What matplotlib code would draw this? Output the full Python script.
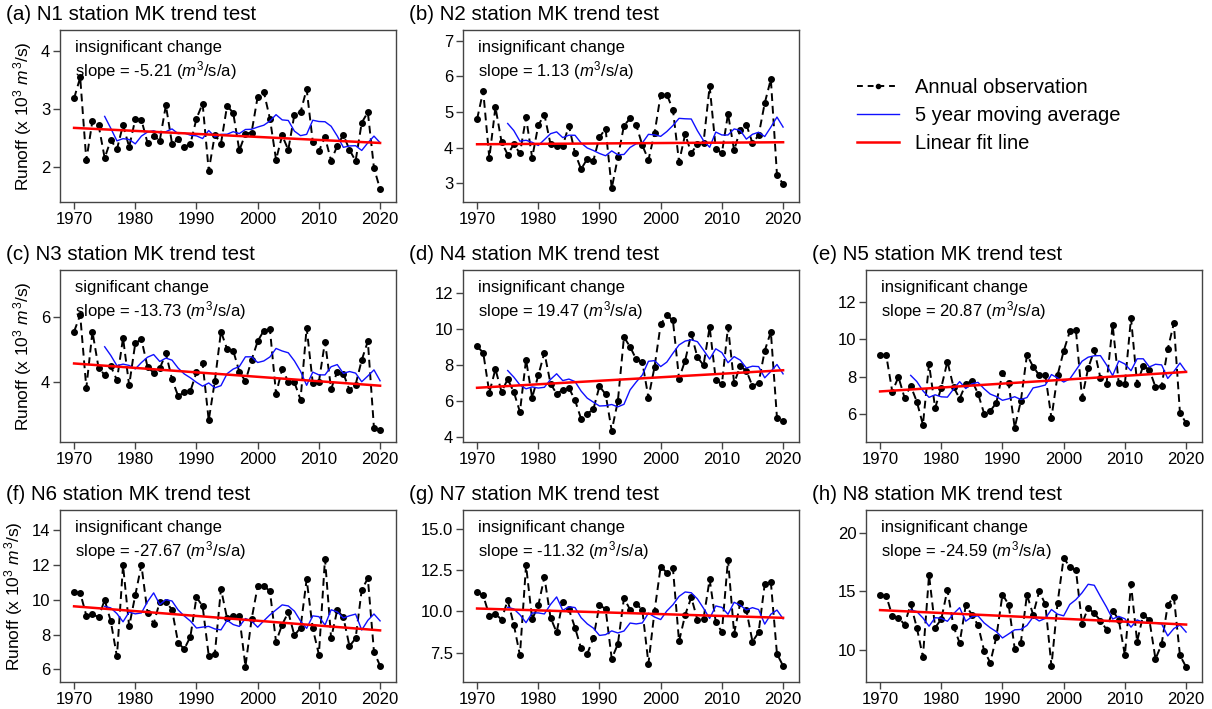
import numpy as np
import pandas as pd
import matplotlib
matplotlib.use('Agg')
import matplotlib.pyplot as plt
from matplotlib.lines import Line2D

plt.rcParams['font.family'] = ['Liberation Sans', 'DejaVu Sans']
plt.rcParams['mathtext.fontset'] = 'custom'
plt.rcParams['mathtext.rm'] = 'Liberation Sans'
plt.rcParams['mathtext.it'] = 'Liberation Sans:italic'

years = np.arange(1970, 2021)

# annual runoff (x 10^3 m3/s)
n1 = [3.18, 3.54, 2.11, 2.79, 2.72, 2.15, 2.46, 2.30, 2.72, 2.34,
      2.82, 2.81, 2.41, 2.53, 2.45, 3.06, 2.40, 2.47, 2.34, 2.39,
      2.83, 3.09, 1.93, 2.55, 2.40, 3.05, 2.93, 2.28, 2.57, 2.59,
      3.21, 3.29, 2.83, 2.12, 2.54, 2.29, 2.90, 2.94, 3.34, 2.43,
      2.27, 2.51, 2.10, 2.36, 2.55, 2.29, 2.10, 2.76, 2.94, 1.98, 1.61]
n2 = [4.80, 5.59, 3.71, 5.14, 4.16, 3.81, 4.10, 3.84, 4.85, 3.72,
      4.63, 4.93, 4.10, 4.04, 4.06, 4.62, 3.85, 3.40, 3.69, 3.64,
      4.30, 4.53, 2.86, 3.73, 4.62, 4.82, 4.64, 4.07, 3.66, 4.41,
      5.49, 5.49, 5.07, 3.60, 4.38, 3.85, 4.10, 4.14, 5.73, 3.97,
      3.85, 4.95, 3.93, 4.51, 4.65, 4.13, 4.35, 5.25, 5.92, 3.25, 2.98]
n3 = [5.56, 6.07, 3.82, 5.56, 4.44, 4.22, 4.49, 4.06, 5.36, 3.90,
      5.20, 5.32, 4.47, 4.29, 4.42, 4.89, 4.09, 3.57, 3.69, 3.72,
      4.30, 4.58, 2.82, 4.03, 5.56, 5.02, 4.97, 4.32, 4.03, 4.68,
      5.26, 5.59, 5.63, 3.64, 4.40, 4.01, 3.99, 3.46, 5.68, 3.97,
      4.01, 5.25, 3.79, 4.32, 4.26, 3.76, 3.92, 4.68, 5.26, 2.58, 2.53]
n4 = [9.04, 8.70, 6.48, 7.78, 6.52, 7.22, 6.52, 5.41, 8.31, 6.20,
      7.43, 8.70, 6.98, 6.41, 6.63, 6.74, 6.06, 5.02, 5.30, 5.56,
      6.83, 6.39, 4.37, 6.00, 9.56, 9.02, 8.33, 8.17, 6.19, 7.91,
      10.26, 10.78, 10.48, 7.26, 8.26, 9.74, 8.44, 8.00, 10.11, 7.20,
      6.94, 10.13, 7.02, 7.93, 7.70, 6.83, 7.02, 8.80, 9.85, 5.09, 4.89]
n5 = [9.16, 9.16, 7.20, 8.00, 6.88, 7.52, 6.68, 5.45, 8.68, 6.34,
      7.43, 8.82, 7.46, 6.84, 7.61, 7.80, 7.11, 6.04, 6.18, 6.61,
      8.21, 7.66, 5.29, 6.71, 9.18, 8.55, 8.09, 8.09, 5.80, 8.09,
      9.38, 10.43, 10.48, 6.88, 8.46, 9.43, 7.95, 7.63, 10.77, 7.66,
      7.63, 11.14, 7.63, 8.59, 8.38, 7.46, 7.52, 9.48, 10.86, 6.07, 5.54]
n6 = [10.42, 10.40, 9.09, 9.18, 8.99, 9.99, 8.76, 6.74, 11.98, 8.47,
      10.26, 12.00, 9.26, 8.62, 9.88, 9.88, 9.43, 7.53, 7.16, 7.87,
      10.15, 9.63, 6.79, 6.89, 10.63, 8.93, 9.09, 9.05, 6.16, 8.87,
      10.78, 10.80, 10.49, 7.58, 8.57, 9.28, 7.95, 8.39, 11.17, 8.35,
      6.85, 12.36, 7.78, 9.41, 8.99, 7.33, 7.78, 10.57, 11.23, 7.01, 6.20]
n7 = [11.17, 10.97, 9.75, 9.85, 9.50, 10.68, 9.20, 7.34, 12.80, 9.52,
      10.36, 12.09, 9.62, 8.73, 10.60, 10.13, 9.01, 7.75, 7.42, 8.38,
      10.38, 10.15, 7.12, 8.01, 10.80, 10.11, 10.46, 10.09, 6.83, 10.03,
      12.72, 12.35, 12.62, 8.18, 9.79, 10.85, 9.50, 9.56, 11.95, 9.36,
      8.75, 13.15, 8.65, 10.52, 10.07, 8.16, 8.73, 11.66, 11.78, 7.42, 6.69]
n8 = [14.66, 14.63, 12.93, 12.76, 12.19, 13.92, 11.93, 9.43, 16.39, 11.93,
      12.64, 15.14, 12.02, 10.63, 13.81, 13.04, 12.13, 9.97, 8.95, 11.14,
      14.74, 13.89, 10.14, 10.65, 14.72, 13.04, 15.00, 13.92, 8.66, 14.03,
      17.87, 17.07, 16.82, 12.27, 13.61, 13.13, 12.53, 11.76, 13.38, 12.59,
      9.57, 15.60, 10.74, 13.01, 12.59, 9.26, 10.51, 13.84, 14.55, 9.57, 8.58]

stations = ['N1', 'N2', 'N3', 'N4', 'N5', 'N6', 'N7', 'N8']
letters = ['a', 'b', 'c', 'd', 'e', 'f', 'g', 'h']
series = [n1, n2, n3, n4, n5, n6, n7, n8]
slopes = ['-5.21', '1.13', '-13.73', '19.47', '20.87', '-27.67', '-11.32', '-24.59']
changes = ['insignificant', 'insignificant', 'significant', 'insignificant',
           'insignificant', 'insignificant', 'insignificant', 'insignificant']

# panel layout (pixels of 1212x709 figure): (left, top)
W, H = 1212, 709
slots = [(60, 30), (463, 30), (60, 270), (463, 270), (866, 270),
         (60, 510), (463, 510), (866, 510)]
ylims = [(1.39, 4.36), (2.48, 7.30), (2.15, 7.46), (3.74, 13.28),
         (4.52, 13.71), (5.27, 15.16), (5.71, 16.16), (7.30, 21.93)]
yticks = [[2, 3, 4], [3, 4, 5, 6, 7], [4, 6], [4, 6, 8, 10, 12],
          [6, 8, 10, 12], [6, 8, 10, 12, 14], [7.5, 10.0, 12.5, 15.0], [10, 15, 20]]
ylabel_on = [True, False, True, False, False, True, False, False]

fig = plt.figure(figsize=(W / 100, H / 100), dpi=100)
aw, ah = 336, 172
spine_c = '#444444'

for i in range(8):
    left, top = slots[i]
    ax = fig.add_axes([left / W, 1 - (top + ah) / H, aw / W, ah / H])
    obs = np.array(series[i])
    ma = pd.Series(obs).rolling(5).mean().shift(1)
    # Sen's slope line: slope from the MK test (m3/s/a -> 10^3 m3/s per year)
    k = float(slopes[i]) / 1000
    b = np.median(obs - k * years)

    ax.plot(years, obs, 'k--', lw=1.4, marker='o', ms=4, dashes=(4, 2.5))
    ax.plot(years, ma, color='#1010ff', lw=1)
    ax.plot(years, k * years + b, color='#ff0000', lw=1.8)

    ax.set_xlim(1967.7, 2022.6)
    ax.set_ylim(*ylims[i])
    ax.set_xticks([1970, 1980, 1990, 2000, 2010, 2020])
    ax.set_yticks(yticks[i])
    if i == 6:
        ax.set_yticklabels(['%.1f' % t for t in yticks[i]])
    ax.tick_params(direction='out', length=5, width=1, color=spine_c,
                   labelsize=12, pad=2)
    for s in ax.spines.values():
        s.set_color(spine_c)
        s.set_linewidth(1)

    ax.text(0.045, 0.94, changes[i] + ' change\nslope = ' + slopes[i] + ' ($m^3$/s/a)',
            transform=ax.transAxes, fontsize=12, va='top', ha='left', linespacing=1.2)
    if ylabel_on[i]:
        ax.set_ylabel('Runoff (x 10$^3$ $m^3$/s)', fontsize=12.5, labelpad=5)

    fig.text((left - 54) / W, 1 - (top - 15) / H,
             '(%s) %s station MK trend test' % (letters[i], stations[i]),
             fontsize=14.8, ha='left', va='center')

handles = [Line2D([], [], color='k', ls='--', lw=1.4, marker='o', ms=3, dashes=(3, 2.5)),
           Line2D([], [], color='#1010ff', lw=1),
           Line2D([], [], color='#ff0000', lw=1.8)]
labels = ['Annual observation', '5 year moving average', 'Linear fit line']
fig.legend(handles, labels, loc='upper left', bbox_to_anchor=(849 / W, 1 - 70 / H),
           frameon=False, fontsize=14.5, handlelength=2.1, handletextpad=0.8,
           labelspacing=0.45, borderaxespad=0)

fig.savefig('out.png', dpi=100)
